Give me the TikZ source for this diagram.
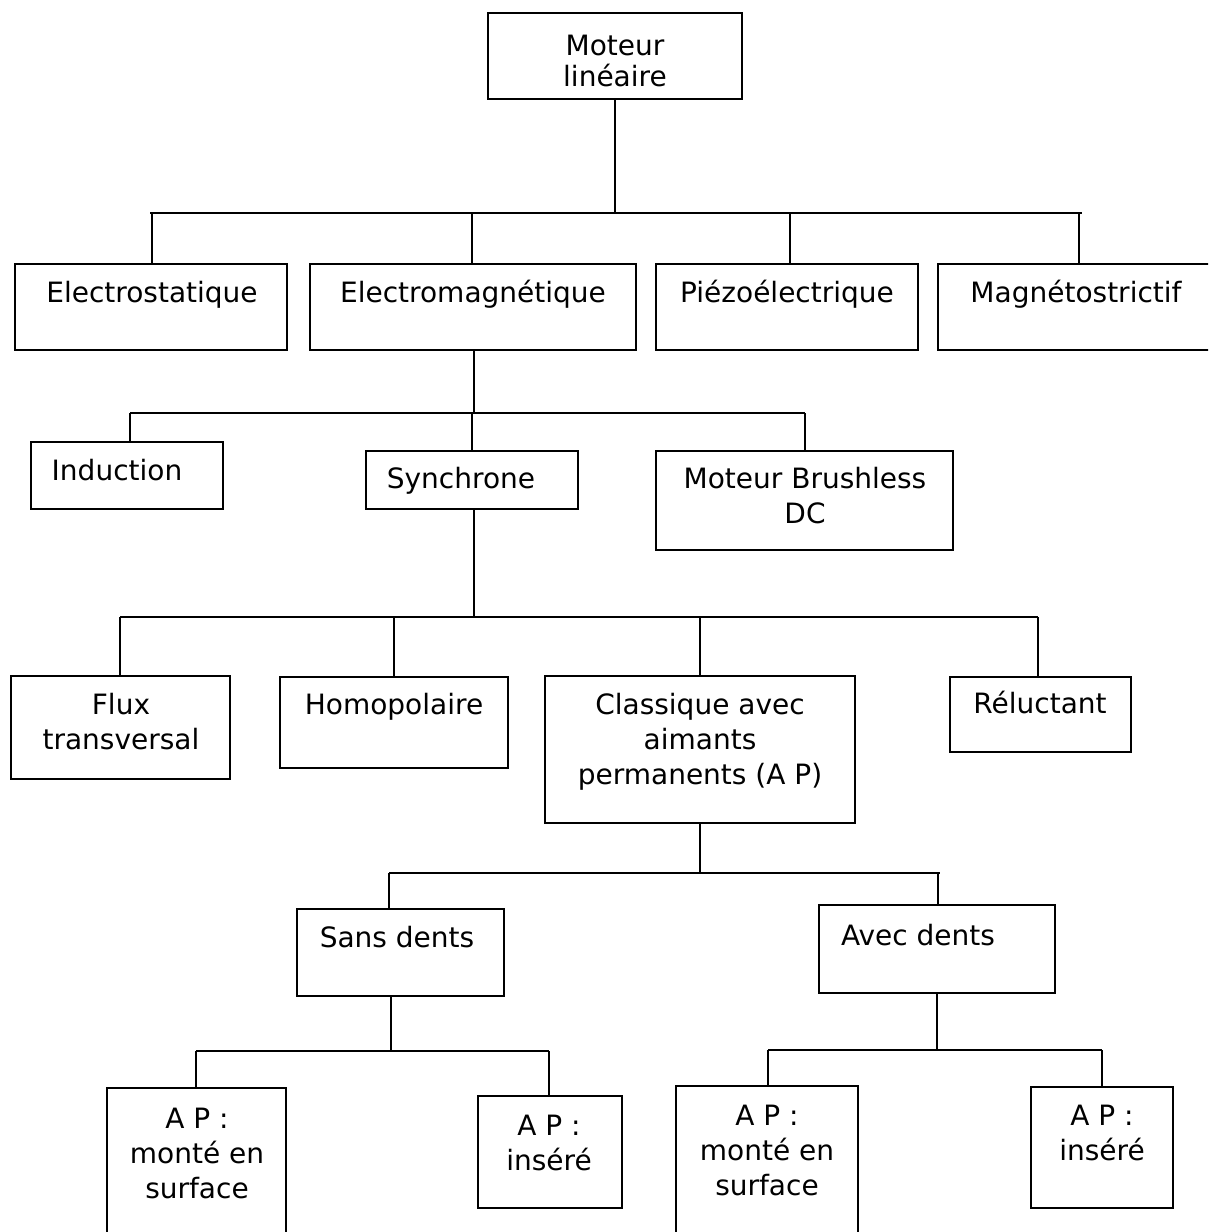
\documentclass[tikz,border=0pt]{standalone}
\usepackage{fontspec}
\setmainfont{DejaVu Sans}
\usetikzlibrary{fit}

% first-line strut so every label's top sits at a fixed distance above its baseline
\newcommand\topstrut{\rule{0pt}{24pt}}
% framed box from its top-left and bottom-right corners
\newcommand\mkbox[5]{%
  \coordinate (#1-a) at (#2,#3);
  \coordinate (#1-b) at (#4,#5);
  \node[boxframe, fit=(#1-a)(#1-b)] (#1) {};}

\tikzset{
  boxframe/.style={draw=black, line width=2pt, inner sep=0pt, rectangle},
  lbl/.style={font=\fontsize{28}{35}\selectfont, align=center, inner sep=0pt, anchor=north},
  tightlbl/.style={lbl, font=\fontsize{28}{31}\selectfont},
  wire/.style={draw=black, line width=1.7pt},
}

\begin{document}
\begin{tikzpicture}[x=1pt, y=-1pt]
\useasboundingbox (0,0) rectangle (1208,1232);
\fill[white] (0,0) rectangle (1208,1232);
\clip (0,0) rectangle (1208,1232);

% ---- boxes ----
\mkbox{root}{488}{13}{742}{99}
\mkbox{es}{15}{264}{287}{350}
\mkbox{em}{310}{264}{636}{350}
\mkbox{pz}{656}{264}{918}{350}
\mkbox{mg}{938}{264}{1220}{350}
\mkbox{ind}{31}{442}{223}{509}
\mkbox{syn}{366}{451}{578}{509}
\mkbox{bl}{656}{451}{953}{550}
\mkbox{fx}{11}{676}{230}{779}
\mkbox{ho}{280}{677}{508}{768}
\mkbox{cl}{545}{676}{855}{823}
\mkbox{re}{950}{677}{1131}{752}
\mkbox{sd}{297}{909}{504}{996}
\mkbox{ad}{819}{905}{1055}{993}
\mkbox{ms1}{107}{1088}{286}{1250}
\mkbox{in1}{478}{1096}{622}{1208}
\mkbox{ms2}{676}{1086}{858}{1250}
\mkbox{in2}{1031}{1087}{1173}{1208}

% ---- labels ----
\node[tightlbl] (t-root) at (615,31) {\topstrut Moteur\\linéaire};
\node[lbl] (t-es) at (152,278) {\topstrut Electrostatique};
\node[lbl] (t-em) at (473,278) {\topstrut Electromagnétique};
\node[lbl] (t-pz) at (787,278) {\topstrut Piézoélectrique};
\node[lbl] (t-mg) at (1076,278) {\topstrut Magnétostrictif};
\node[lbl] (t-ind) at (117,456) {\topstrut Induction};
\node[lbl] (t-syn) at (461,464) {\topstrut Synchrone};
\node[lbl] (t-bl) at (805,464) {\topstrut Moteur Brushless\\DC};
\node[lbl] (t-fx) at (121,690) {\topstrut Flux\\transversal};
\node[lbl] (t-ho) at (394,690) {\topstrut Homopolaire};
\node[lbl] (t-cl) at (700,690) {\topstrut Classique avec\\aimants\\permanents (A P)};
\node[lbl] (t-re) at (1040,689) {\topstrut Réluctant};
\node[lbl] (t-sd) at (397,923) {\topstrut Sans dents};
\node[lbl] (t-ad) at (918,921) {\topstrut Avec dents};
\node[lbl] (t-ms1) at (197,1104) {\topstrut A P :\\monté en\\surface};
\node[lbl] (t-in1) at (549,1111) {\topstrut A P :\\inséré};
\node[lbl] (t-ms2) at (767,1101) {\topstrut A P :\\monté en\\surface};
\node[lbl] (t-in2) at (1102,1101) {\topstrut A P :\\inséré};

% ---- tree connectors ----
% Moteur linéaire -> four families
\coordinate (j1) at (615,213);
\coordinate (b1l) at (150,213);
\coordinate (b1r) at (1082,213);
\coordinate (d1a) at (152,213);
\coordinate (d1b) at (472,213);
\coordinate (d1c) at (790,213);
\coordinate (d1d) at (1079,213);
\draw[wire] (root.south) -- (j1);
\draw[wire] (b1l) -- (b1r);
\draw[wire] (d1a) -- (d1a |- es.north);
\draw[wire] (d1b) -- (d1b |- em.north);
\draw[wire] (d1c) -- (d1c |- pz.north);
\draw[wire] (d1d) -- (d1d |- mg.north);

% Electromagnetique -> Induction, Synchrone, Brushless DC
\coordinate (j2) at (474,413);
\coordinate (b2l) at (130,413);
\coordinate (b2r) at (805,413);
\coordinate (d2b) at (472,413);
\draw[wire] (em.south -| j2) -- (j2);
\draw[wire] (b2l) -- (b2r);
\draw[wire] (b2l) -- (b2l |- ind.north);
\draw[wire] (d2b) -- (d2b |- syn.north);
\draw[wire] (b2r) -- (b2r |- bl.north);

% Synchrone -> four variants
\coordinate (j3) at (474,617);
\coordinate (b3l) at (120,617);
\coordinate (b3r) at (1038,617);
\coordinate (d3b) at (394,617);
\coordinate (d3c) at (700,617);
\draw[wire] (syn.south -| j3) -- (j3);
\draw[wire] (b3l) -- (b3r);
\draw[wire] (b3l) -- (b3l |- fx.north);
\draw[wire] (d3b) -- (d3b |- ho.north);
\draw[wire] (d3c) -- (d3c |- cl.north);
\draw[wire] (b3r) -- (b3r |- re.north);

% Classique -> Sans dents, Avec dents
\coordinate (j4) at (700,873);
\coordinate (b4l) at (389,873);
\coordinate (b4r) at (940,873);
\coordinate (d4b) at (938,873);
\draw[wire] (cl.south -| j4) -- (j4);
\draw[wire] (b4l) -- (b4r);
\draw[wire] (b4l) -- (b4l |- sd.north);
\draw[wire] (d4b) -- (d4b |- ad.north);

% Sans dents -> surface / inserted magnets
\coordinate (j5) at (391,1051);
\coordinate (b5l) at (196,1051);
\coordinate (b5r) at (549,1051);
\draw[wire] (sd.south -| j5) -- (j5);
\draw[wire] (b5l) -- (b5r);
\draw[wire] (b5l) -- (b5l |- ms1.north);
\draw[wire] (b5r) -- (b5r |- in1.north);

% Avec dents -> surface / inserted magnets
\coordinate (j6) at (937,1050);
\coordinate (b6l) at (768,1050);
\coordinate (b6r) at (1102,1050);
\draw[wire] (ad.south -| j6) -- (j6);
\draw[wire] (b6l) -- (b6r);
\draw[wire] (b6l) -- (b6l |- ms2.north);
\draw[wire] (b6r) -- (b6r |- in2.north);
\end{tikzpicture}
\end{document}
